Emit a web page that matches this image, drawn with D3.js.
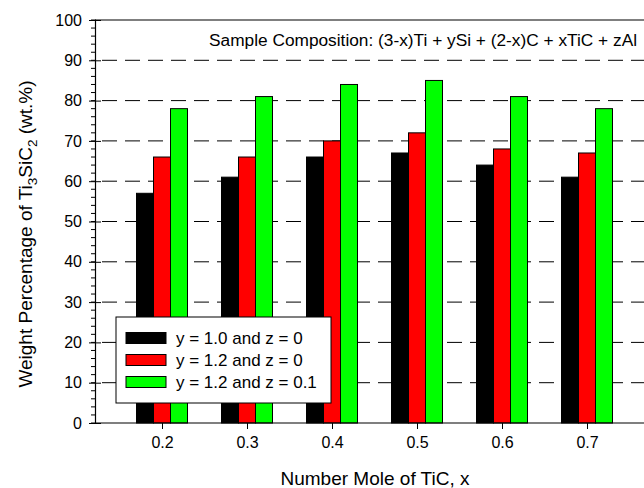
<!DOCTYPE html>
<html>
<head>
<meta charset="utf-8">
<script src="https://cdn.jsdelivr.net/npm/d3@7"></script>
<style>
  body { margin: 0; background: #fff; }
  svg { display: block; font-family: "Liberation Sans", Arial, sans-serif; }
</style>
</head>
<body>
<div id="chart"></div>
<script>
// data
const categories = [0.2, 0.3, 0.4, 0.5, 0.6, 0.7];
const seriesNames = ["y = 1.0 and z = 0", "y = 1.2 and z = 0", "y = 1.2 and z = 0.1"];
const seriesColors = ["#000000", "#ff0000", "#00ff00"];
const y10z0 = [57, 61, 66, 67, 64, 61];
const y12z0 = [66, 66, 70, 72, 68, 67];
const y12z01 = [78, 81, 84, 85, 81, 78];
const yTicks = [0, 10, 20, 30, 40, 50, 60, 70, 80, 90, 100];
const yMinorTicks = d3.range(0, 101, 2);
const gridValues = [10, 20, 30, 40, 50, 60, 70, 80, 90];
const seriesValues = [y10z0, y12z0, y12z01];

var width = 644, height = 488;
var plot = {left: 95, right: 644, top: 20, bottom: 423};

var svg = d3.select("#chart").append("svg")
  .attr("width", width)
  .attr("height", height);

// set the ranges
var x = d3.scaleLinear()
  .domain([0.2, 0.7])
  .range([162, 587]);
var y = d3.scaleLinear()
  .domain([0, 100])
  .range([plot.bottom, plot.top]);
var xSub = d3.scaleBand()
  .domain(seriesNames)
  .range([-25.5, 25.5]);

// dashed grid
svg.append("g")
  .selectAll("line")
  .data(gridValues)
  .enter().append("line")
  .attr("x1", plot.left)
  .attr("x2", plot.right)
  .attr("y1", d => y(d))
  .attr("y2", d => y(d))
  .attr("stroke", "#000")
  .attr("stroke-width", 1)
  .attr("stroke-dasharray", "15,8")
  .attr("stroke-dashoffset", -7);

// bars
var rows = categories.map((c, i) => ({cat: c, vals: seriesValues.map((s, j) => ({name: seriesNames[j], color: seriesColors[j], v: s[i]}))}));
var groups = svg.append("g")
  .selectAll("g")
  .data(rows)
  .enter().append("g")
  .attr("transform", d => "translate(" + x(d.cat) + ",0)");
groups.selectAll("rect")
  .data(d => d.vals)
  .enter().append("rect")
  .attr("x", d => xSub(d.name))
  .attr("width", xSub.bandwidth())
  .attr("y", d => y(d.v))
  .attr("height", d => y(0) - y(d.v))
  .attr("fill", d => d.color)
  .attr("stroke", "#000")
  .attr("stroke-width", 1);

// frame line on top
svg.append("line")
  .attr("x1", plot.left).attr("x2", plot.right)
  .attr("y1", y(100)).attr("y2", y(100))
  .attr("stroke", "#000").attr("stroke-width", 1.2);

// x axis
var xAxis = svg.append("g")
  .attr("transform", "translate(0," + plot.bottom + ")")
  .call(d3.axisBottom(x).tickValues(categories).tickFormat(d3.format(".1f")).tickSizeOuter(0).tickSize(6).tickPadding(8));
xAxis.select(".domain").remove();
xAxis.selectAll("text").attr("font-size", "16px").attr("fill", "#000").attr("font-family", null);
svg.append("line")
  .attr("x1", plot.left).attr("x2", plot.right)
  .attr("y1", plot.bottom).attr("y2", plot.bottom)
  .attr("stroke", "#000").attr("stroke-width", 1.2);

// y axis, minor ticks then major
svg.append("g")
  .attr("transform", "translate(" + plot.left + ",0)")
  .selectAll("line")
  .data(yMinorTicks)
  .enter().append("line")
  .attr("x1", -4).attr("x2", 1)
  .attr("y1", d => y(d)).attr("y2", d => y(d))
  .attr("stroke", "#000");
var yAxis = svg.append("g")
  .attr("transform", "translate(" + plot.left + ",0)")
  .call(d3.axisLeft(y).tickValues(yTicks).tickSizeOuter(0).tickSize(6).tickPadding(7));
yAxis.select(".domain").attr("stroke-width", 1.2);
yAxis.selectAll(".tick line").attr("x2", -6).attr("x1", 6);
yAxis.selectAll("text").attr("font-size", "16px").attr("fill", "#000").attr("font-family", null);

// annotation
svg.append("text")
  .attr("x", 637)
  .attr("y", 46)
  .attr("text-anchor", "end")
  .attr("font-size", "17.3px")
  .text("Sample Composition: (3-x)Ti + ySi + (2-x)C + xTiC + zAl");

// axis titles
svg.append("text")
  .attr("x", 375)
  .attr("y", 485)
  .attr("text-anchor", "middle")
  .attr("font-size", "19px")
  .text("Number Mole of TiC, x");

var yl = svg.append("text")
  .attr("transform", "translate(32,234) rotate(-90)")
  .attr("text-anchor", "middle")
  .attr("font-size", "19px");
yl.append("tspan").text("Weight Percentage of Ti");
yl.append("tspan").attr("font-size", "13.5px").attr("dy", 5).text("3");
yl.append("tspan").attr("dy", -5).text("SiC");
yl.append("tspan").attr("font-size", "13.5px").attr("dy", 5).text("2");
yl.append("tspan").attr("dy", -5).text(" (wt.%)");

// legend
var legend = svg.append("g");
legend.append("rect")
  .attr("x", 116).attr("y", 317)
  .attr("width", 215).attr("height", 86)
  .attr("fill", "#fff").attr("stroke", "#000").attr("stroke-width", 1);
var items = legend.selectAll("g.item")
  .data(seriesNames)
  .enter().append("g")
  .attr("class", "item")
  .attr("transform", (d, i) => "translate(126," + (338 + i * 22) + ")");
items.append("rect")
  .attr("x", 0).attr("y", -5.5)
  .attr("width", 40).attr("height", 11)
  .attr("fill", (d, i) => seriesColors[i])
  .attr("stroke", "#000");
items.append("text")
  .attr("x", 50).attr("y", 6)
  .attr("font-size", "17px")
  .text(d => d);
</script>
</body>
</html>
